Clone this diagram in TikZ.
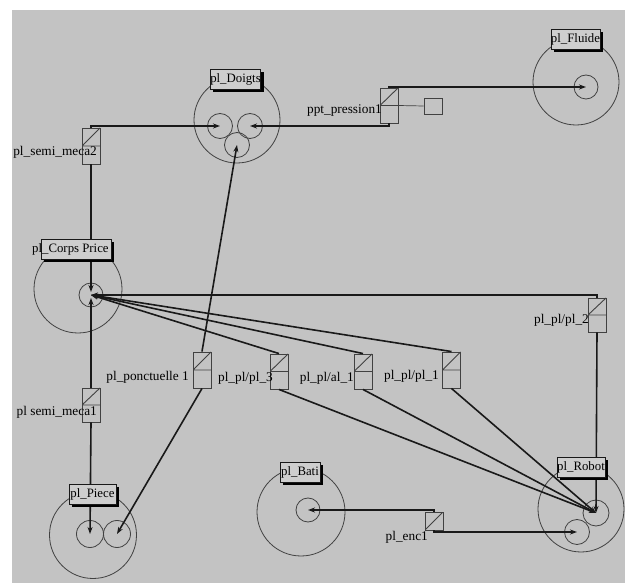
\documentclass[tikz,border=0pt]{standalone}
\usepackage{fontspec}
\setmainfont{Liberation Serif}
\usetikzlibrary{arrows.meta,shadows}
\definecolor{bg}{RGB}{195,195,195}
\definecolor{lbl}{RGB}{206,206,206}
\definecolor{ln}{RGB}{25,25,25}
\definecolor{cl}{RGB}{65,65,65}
\begin{document}
\begin{tikzpicture}[x=1pt,y=-1pt,
  big/.style={circle,draw=cl,line width=0.8pt,inner sep=0pt,minimum size=#1},
  sm/.style={circle,draw=cl,line width=0.8pt,inner sep=0pt,minimum size=25pt},
  tag/.style={draw=ln,fill=lbl,line width=0.7pt,inner sep=0pt,minimum height=20pt,
    font=\fontsize{12.8}{13}\selectfont,
    drop shadow={shadow xshift=3pt,shadow yshift=-3pt,fill=black,opacity=1}},
  link/.style={draw=cl,line width=0.9pt,inner sep=0pt,minimum width=18pt,minimum height=35pt,
    path picture={\draw[cl,line width=0.9pt]
      (path picture bounding box.west) -- (path picture bounding box.east)
      (path picture bounding box.west) -- (path picture bounding box.north east);}},
  encbox/.style={draw=cl,line width=0.9pt,inner sep=0pt,minimum width=18pt,minimum height=18pt,
    path picture={\draw[cl,line width=0.9pt]
      (path picture bounding box.south west) -- (path picture bounding box.north east);}},
  sqbox/.style={draw=cl,line width=0.8pt,inner sep=0pt,minimum width=18pt,minimum height=16pt},
  lab/.style={font=\fontsize{13.3}{14}\selectfont,inner sep=0pt,anchor=east,text=black},
  con/.style={draw=ln,line width=1.6pt,-{Stealth[length=7pt,width=5pt]}},
  rcon/.style={draw=ln,line width=1.6pt,{Stealth[length=7pt,width=5pt]}-},
  thin/.style={draw=cl,line width=0.7pt}
]
\useasboundingbox (0,0) rectangle (625,583);
\fill[white] (0,0) rectangle (625,583);
\fill[bg] (12,10) rectangle (625,583);

% big circles
\node[big=86pt] (doigts) at (237,120) {};
\node[big=86pt] (fluide) at (576,82) {};
\node[big=88pt] (corps) at (78,289) {};
\node[big=87pt] (piece) at (93,535) {};
\node[big=88pt] (bati) at (301,512) {};
\node[big=86pt] (robot) at (581,509) {};

% small circles
\node[sm] (dl) at (220,126) {};
\node[sm] (dr) at (250,126) {};
\node[sm] (db) at (237,145) {};
\node[sm,minimum size=24pt] (fl) at (586,87) {};
\node[sm,minimum size=24pt] (cp) at (91,295) {};
\node[sm,minimum size=27pt] (pl) at (90,534) {};
\node[sm,minimum size=27pt] (pr) at (117,534) {};
\node[sm,minimum size=24pt] (bs) at (308,510) {};
\node[sm,minimum size=26pt] (ru) at (596,513) {};
\node[sm] (rl) at (577,532) {};

% link boxes
\node[link,minimum height=36pt] (sm2) at (91,146) {};
\node[link] (ppt) at (389,105.5) {};
\node[sqbox] (sq) at (433,106) {};
\node[link,minimum height=36pt] (pont) at (202,370) {};
\node[link] (pl3) at (279,371.5) {};
\node[link] (al1) at (363,371.5) {};
\node[link,minimum height=36pt] (pl1) at (451.5,370) {};
\node[link,minimum height=34pt] (pl2) at (597,315) {};
\node[link,minimum height=34pt] (sm1) at (91,405) {};
\node[encbox] (enc) at (434,521) {};

% link labels
\node[lab] (tsm2) at (97,152) {pl\_semi\_meca2};
\node[lab] (tppt) at (382,111) {ppt\_pression1};
\node[lab] (tpont) at (189,377) {pl\_ponctuelle 1};
\node[lab] (tpl3) at (273,378) {pl\_pl/pl\_3};
\node[lab] (tal1) at (354,378) {pl\_pl/al\_1};
\node[lab] (tpl1) at (439,376) {pl\_pl/pl\_1};
\node[lab] (tpl2) at (589,320) {pl\_pl/pl\_2};
\node[lab] (tsm1) at (97,412) {pl semi\_meca1};
\node[lab] (tenc) at (428,537) {pl\_enc1};

% connectors
\draw[con] (sm2.north) |- (dl.center);
\draw[con,shorten >=3pt] (sm2.south) -- (cp.center);
\draw[con,shorten >=3pt] (sm1.north) -- (cp.center);
\draw[con] (sm1.south) -- (pl.center);
\draw[con] (pont.north) -- (db.center);
\draw[con] (pont.south) -- (pr.center);
\draw[rcon] (cp.center) -- (pl3.north);
\draw[rcon] (cp.center) -- (al1.north);
\draw[rcon] (cp.center) -- (pl1.north);
\draw[rcon] (cp.center) -| (pl2.north);
\draw[con] (pl2.south) -- (ru.center);
\draw[con] (pl3.south) -- (ru.center);
\draw[con] (al1.south) -- (ru.center);
\draw[con] (pl1.south) -- (ru.center);
\draw[con] (ppt.north) |- (fl.center);
\draw[con] (ppt.south) |- (dr.center);
\draw[thin] (ppt.east) -- (sq.west);
\draw[con] (enc.north) |- (bs.center);
\draw[con] (enc.south) |- (rl.center);

% name tags
\node[tag,minimum width=49pt] (tdoigts) at (235.5,79) {pl\_Doigts};
\node[tag,minimum width=47pt] (tfluide) at (575.5,39.5) {pl\_Fluide};
\node[tag,minimum width=70pt] (tcorpsbox) at (76,249) {};
\node[font=\fontsize{12.8}{13}\selectfont,inner sep=0pt,anchor=west] (tcorps) at (32,249) {pl\_Corps Price};
\node[tag,minimum width=47pt] (tpiece) at (92.5,494) {pl\_Piece};
\node[tag,minimum width=40pt] (tbati) at (300,472) {pl\_Bati};
\node[tag,minimum width=48pt] (trobot) at (581,467) {pl\_Robot};
\end{tikzpicture}
\end{document}
